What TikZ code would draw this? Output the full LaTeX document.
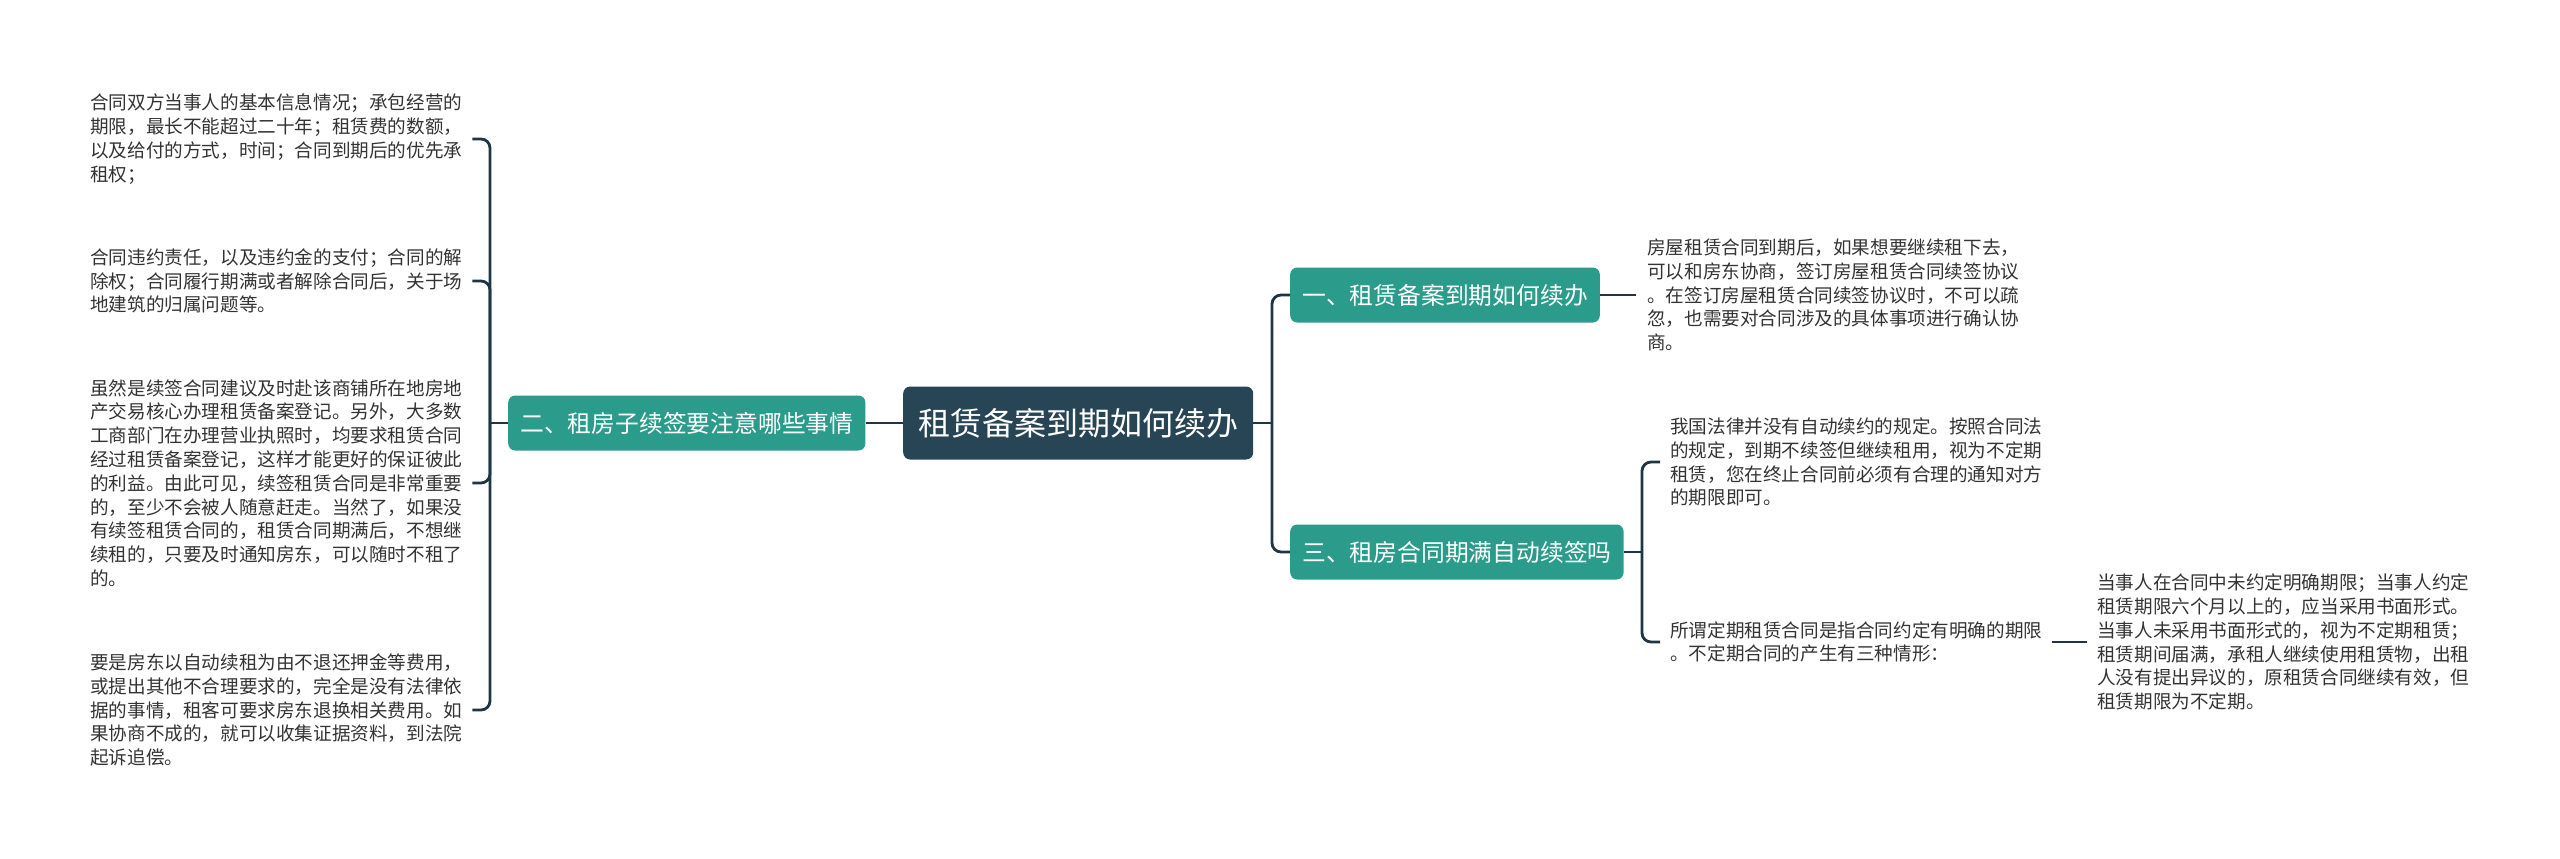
\documentclass[tikz,border=0pt]{standalone}
\usepackage{fontspec}
\newfontfamily\cjk{Noto Sans CJK SC}
\definecolor{teal1}{HTML}{2B9C8C}
\definecolor{rootc}{HTML}{274554}
\definecolor{linec}{HTML}{1E3544}
\definecolor{txtc}{HTML}{333333}
\tikzset{
  rootbox/.style={draw=none, fill=rootc, rounded corners=7pt, text=white, inner xsep=15pt, inner ysep=0pt, minimum height=73pt, anchor=west, font=\cjk\fontsize{32}{38}\selectfont},
  branchbox/.style={draw=none, fill=teal1, rounded corners=7pt, text=white, inner xsep=12pt, inner ysep=0pt, minimum height=55pt, anchor=west, font=\cjk\fontsize{23.8}{28}\selectfont},
  leaf/.style={inner sep=0pt, align=left, text=txtc, font=\cjk\fontsize{18.6}{23.8}\selectfont},
  conn/.style={draw=linec, line width=2.8pt, rounded corners=9pt}
}
\begin{document}
\begin{tikzpicture}[x=1pt,y=-1pt]
\useasboundingbox (0,0) rectangle (2560,859);
% root and branches
\node[rootbox] (root) at (903,423) {租赁备案到期如何续办};
\node[branchbox] (b2) at (508,423) {二、租房子续签要注意哪些事情};
\node[branchbox] (b1) at (1290,295) {一、租赁备案到期如何续办};
\node[branchbox] (b3) at (1290,552) {三、租房合同期满自动续签吗};
% left leaves
\node[leaf, anchor=west] (L1) at (90,139) {合同双方当事人的基本信息情况；承包经营的\\期限，最长不能超过二十年；租赁费的数额，\\以及给付的方式，时间；合同到期后的优先承\\租权；};
\node[leaf, anchor=west] (L2) at (90,281) {合同违约责任，以及违约金的支付；合同的解\\除权；合同履行期满或者解除合同后，关于场\\地建筑的归属问题等。};
\node[leaf, anchor=west] (L3) at (90,483) {虽然是续签合同建议及时赴该商铺所在地房地\\产交易核心办理租赁备案登记。另外，大多数\\工商部门在办理营业执照时，均要求租赁合同\\经过租赁备案登记，这样才能更好的保证彼此\\的利益。由此可见，续签租赁合同是非常重要\\的，至少不会被人随意赶走。当然了，如果没\\有续签租赁合同的，租赁合同期满后，不想继\\续租的，只要及时通知房东，可以随时不租了\\的。};
\node[leaf, anchor=west] (L4) at (90,710) {要是房东以自动续租为由不退还押金等费用，\\或提出其他不合理要求的，完全是没有法律依\\据的事情，租客可要求房东退换相关费用。如\\果协商不成的，就可以收集证据资料，到法院\\起诉追偿。};
% right leaves
\node[leaf, anchor=west] (R1) at (1647,295) {房屋租赁合同到期后，如果想要继续租下去，\\可以和房东协商，签订房屋租赁合同续签协议\\。在签订房屋租赁合同续签协议时，不可以疏\\忽，也需要对合同涉及的具体事项进行确认协\\商。};
\node[leaf, anchor=west] (R3a) at (1670,462) {我国法律并没有自动续约的规定。按照合同法\\的规定，到期不续签但继续租用，视为不定期\\租赁，您在终止合同前必须有合理的通知对方\\的期限即可。};
\node[leaf, anchor=west] (R3b) at (1670,642) {所谓定期租赁合同是指合同约定有明确的期限\\。不定期合同的产生有三种情形：};
\node[leaf, anchor=west] (R3b1) at (2097,642) {当事人在合同中未约定明确期限；当事人约定\\租赁期限六个月以上的，应当采用书面形式。\\当事人未采用书面形式的，视为不定期租赁；\\租赁期间届满，承租人继续使用租赁物，出租\\人没有提出异议的，原租赁合同继续有效，但\\租赁期限为不定期。};
% bus points
\coordinate (busL) at (490,423);
\coordinate (busR) at (1272,423);
\coordinate (busR2) at (1642,552);
% connectors left
\draw[conn] (root.west) -- (b2.east);
\draw[conn] (b2.west) -- (busL);
\draw[conn] ([xshift=10pt]L1.east) -| (busL) |- ([xshift=10pt]L4.east);
\draw[conn] ([xshift=10pt]L2.east) -| (busL);
\draw[conn] ([xshift=10pt]L3.east) -| (busL);
% connectors right
\draw[conn] (root.east) -- (busR);
\draw[conn] (b1.west) -| (busR) |- (b3.west);
\draw[conn] (b1.east) -- ([xshift=-11pt]R1.west |- b1.east);
\draw[conn] (b3.east) -- (busR2);
\draw[conn] ([xshift=-10pt]R3a.west) -| (busR2) |- ([xshift=-10pt]R3b.west);
\draw[conn] ([xshift=10pt]R3b.east) -- ([xshift=-10pt]R3b1.west);
\end{tikzpicture}
\end{document}
